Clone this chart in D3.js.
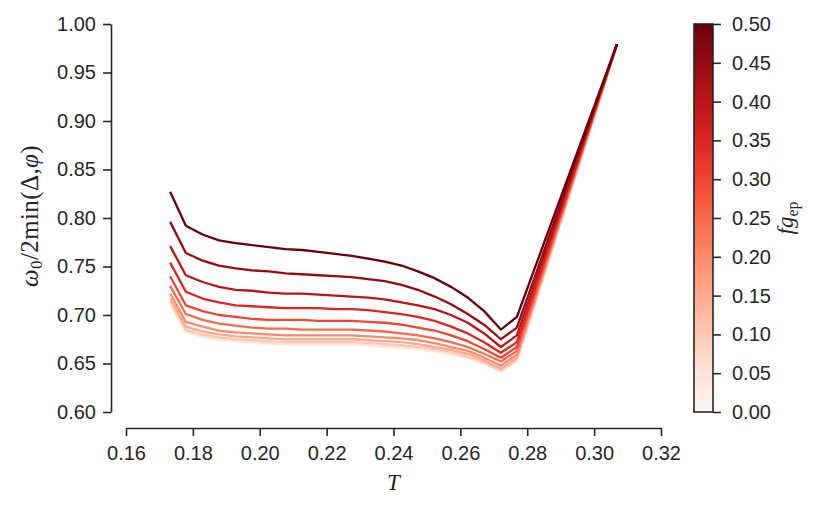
<!DOCTYPE html>
<html>
<head>
<meta charset="utf-8">
<script src="https://cdn.jsdelivr.net/npm/d3@7"></script>
<style>
  body { margin: 0; background: #fff; }
</style>
</head>
<body>
<div id="chart"></div>
<script>
// Temperatures where the ratio was computed
const temps = [0.1732, 0.1779, 0.1829, 0.1878, 0.1928, 0.1977, 0.2027, 0.2077, 0.2126, 0.2176,
               0.2225, 0.2275, 0.2324, 0.2374, 0.2424, 0.2473, 0.2523, 0.2572, 0.2622, 0.2671,
               0.2721, 0.2769, 0.3068];

// coupling values, one curve each
const fgValues = [0.00, 0.05, 0.10, 0.15, 0.20, 0.25, 0.30, 0.35, 0.40, 0.45, 0.50];

// omega_0 / 2 min(Delta, phi) per curve
const fg000 = [0.711, 0.682, 0.677, 0.674, 0.672, 0.671, 0.670, 0.669, 0.669, 0.669, 0.669, 0.669, 0.668, 0.667, 0.666, 0.664, 0.662, 0.659, 0.655, 0.649, 0.641, 0.652, 0.977];
const fg005 = [0.712, 0.683, 0.678, 0.675, 0.673, 0.672, 0.671, 0.670, 0.670, 0.670, 0.670, 0.670, 0.669, 0.668, 0.667, 0.665, 0.663, 0.660, 0.656, 0.650, 0.642, 0.653, 0.978];
const fg010 = [0.714, 0.685, 0.680, 0.677, 0.675, 0.674, 0.673, 0.672, 0.672, 0.672, 0.672, 0.672, 0.671, 0.670, 0.669, 0.667, 0.665, 0.662, 0.657, 0.651, 0.643, 0.654, 0.978];
const fg015 = [0.717, 0.688, 0.683, 0.680, 0.678, 0.677, 0.676, 0.675, 0.675, 0.675, 0.675, 0.675, 0.674, 0.673, 0.672, 0.670, 0.667, 0.664, 0.660, 0.653, 0.645, 0.656, 0.979];
const fg020 = [0.722, 0.693, 0.688, 0.684, 0.682, 0.681, 0.680, 0.679, 0.679, 0.679, 0.679, 0.679, 0.678, 0.677, 0.676, 0.674, 0.671, 0.667, 0.663, 0.656, 0.648, 0.659, 0.979];
const fg025 = [0.730, 0.701, 0.695, 0.691, 0.689, 0.687, 0.686, 0.686, 0.685, 0.685, 0.685, 0.685, 0.684, 0.683, 0.681, 0.679, 0.676, 0.672, 0.667, 0.660, 0.652, 0.663, 0.979];
const fg030 = [0.740, 0.710, 0.704, 0.700, 0.698, 0.696, 0.695, 0.695, 0.695, 0.694, 0.694, 0.694, 0.693, 0.692, 0.690, 0.687, 0.684, 0.679, 0.673, 0.665, 0.656, 0.667, 0.979];
const fg035 = [0.754, 0.724, 0.717, 0.713, 0.710, 0.709, 0.708, 0.707, 0.707, 0.707, 0.706, 0.706, 0.705, 0.703, 0.701, 0.698, 0.694, 0.688, 0.681, 0.672, 0.661, 0.672, 0.979];
const fg040 = [0.771, 0.741, 0.734, 0.729, 0.726, 0.725, 0.723, 0.722, 0.722, 0.721, 0.720, 0.719, 0.718, 0.716, 0.713, 0.710, 0.706, 0.700, 0.692, 0.681, 0.667, 0.679, 0.979];
const fg045 = [0.796, 0.764, 0.756, 0.751, 0.748, 0.746, 0.745, 0.743, 0.742, 0.741, 0.740, 0.739, 0.737, 0.735, 0.731, 0.726, 0.719, 0.711, 0.701, 0.690, 0.675, 0.687, 0.979];
const fg050 = [0.827, 0.792, 0.783, 0.777, 0.774, 0.772, 0.770, 0.768, 0.767, 0.765, 0.763, 0.761, 0.758, 0.755, 0.751, 0.745, 0.738, 0.729, 0.718, 0.704, 0.685, 0.698, 0.979];
const series = [fg000, fg005, fg010, fg015, fg020, fg025, fg030, fg035, fg040, fg045, fg050];

const xTicks = [0.16, 0.18, 0.20, 0.22, 0.24, 0.26, 0.28, 0.30, 0.32];
const yTicks = [0.60, 0.65, 0.70, 0.75, 0.80, 0.85, 0.90, 0.95, 1.00];
const cbTicks = [0.00, 0.05, 0.10, 0.15, 0.20, 0.25, 0.30, 0.35, 0.40, 0.45, 0.50];

const width = 830, height = 512;
const ink = "#262626";
const sans = "'Liberation Sans', Arial, sans-serif";
const serif = "'Liberation Serif', 'DejaVu Serif', serif";

const svg = d3.select("#chart")
    .append("svg")
    .attr("width", width)
    .attr("height", height);

// scales
const x = d3.scaleLinear().domain([0.16, 0.32]).range([126, 661]);
const y = d3.scaleLinear().domain([0.60, 1.00]).range([412, 24]);
const color = d3.scaleSequential(d3.interpolateReds).domain([0, 0.5]);

// curves
const line = d3.line()
    .x((d, i) => x(temps[i]))
    .y(d => y(d));

svg.append("g")
    .selectAll("path")
    .data(series)
    .enter()
    .append("path")
    .attr("d", line)
    .attr("fill", "none")
    .attr("stroke", (d, i) => color(fgValues[i]))
    .attr("stroke-width", 2.3)
    .attr("stroke-linejoin", "round");

// axes, seaborn "ticks" style with offset spines
function styleAxis(g) {
    g.select(".domain").attr("stroke", ink).attr("stroke-width", 1.6);
    g.selectAll(".tick line").attr("stroke", ink).attr("stroke-width", 1.6);
    g.selectAll(".tick text")
        .attr("fill", ink)
        .style("font-family", sans)
        .style("font-size", "20px");
}

svg.append("g")
    .attr("transform", "translate(0,428)")
    .call(d3.axisBottom(x).tickValues(xTicks).tickFormat(d3.format(".2f"))
        .tickSize(8).tickSizeOuter(0).tickPadding(10))
    .call(styleAxis);

svg.append("g")
    .attr("transform", "translate(111,0)")
    .call(d3.axisLeft(y).tickValues(yTicks).tickFormat(d3.format(".2f"))
        .tickSize(8).tickSizeOuter(0).tickPadding(7))
    .call(styleAxis);

// axis labels
svg.append("text")
    .attr("x", 393.5)
    .attr("y", 490)
    .attr("text-anchor", "middle")
    .style("font-family", serif)
    .style("font-style", "italic")
    .style("font-size", "23px")
    .attr("fill", ink)
    .text("T");

const yLabel = svg.append("text")
    .attr("transform", "translate(38,216) rotate(-90)")
    .attr("text-anchor", "middle")
    .style("font-family", serif)
    .style("font-size", "25px")
    .style("letter-spacing", "0.4px")
    .attr("fill", ink);
yLabel.append("tspan").style("font-style", "italic").text("ω");
yLabel.append("tspan").attr("dy", 4).style("font-size", "17px").text("0");
yLabel.append("tspan").attr("dy", -4).text("/2min(Δ,");
yLabel.append("tspan").style("font-style", "italic").text("φ");
yLabel.append("tspan").text(")");

// colorbar
const cbX = 694, cbW = 19;
const cb = d3.scaleLinear().domain([0, 0.5]).range([412, 24]);

const grad = svg.append("defs").append("linearGradient")
    .attr("id", "reds")
    .attr("x1", 0).attr("y1", 1)
    .attr("x2", 0).attr("y2", 0);
grad.selectAll("stop")
    .data(d3.range(0, 1.0001, 0.05))
    .enter()
    .append("stop")
    .attr("offset", d => d)
    .attr("stop-color", d => d3.interpolateReds(d));

svg.append("rect")
    .attr("x", cbX)
    .attr("y", cb(0.5))
    .attr("width", cbW)
    .attr("height", cb(0) - cb(0.5))
    .attr("fill", "url(#reds)")
    .attr("stroke", ink)
    .attr("stroke-width", 1.6);

svg.append("g")
    .attr("transform", `translate(${cbX + cbW},0)`)
    .call(d3.axisRight(cb).tickValues(cbTicks).tickFormat(d3.format(".2f"))
        .tickSize(8).tickSizeOuter(0).tickPadding(11))
    .call(styleAxis)
    .call(g => g.select(".domain").remove());

const cbLabel = svg.append("text")
    .attr("transform", "translate(793,218) rotate(-90)")
    .attr("text-anchor", "middle")
    .style("font-family", serif)
    .style("font-size", "23px")
    .attr("fill", ink);
cbLabel.append("tspan").style("font-style", "italic").text("fg");
cbLabel.append("tspan").attr("dy", 5).style("font-size", "16px").text("ep");
</script>
</body>
</html>
